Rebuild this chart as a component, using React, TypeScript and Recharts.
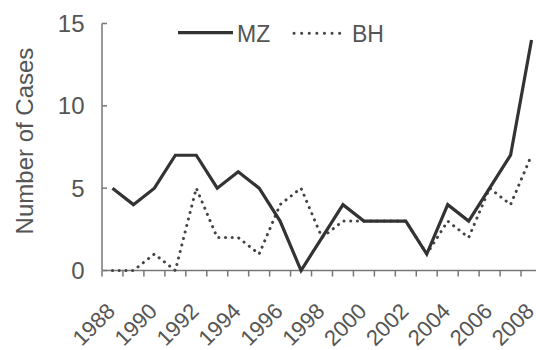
import React from 'react';
import { LineChart, Line, XAxis, YAxis, ReferenceLine, Legend } from 'recharts';

const years = [1988, 1989, 1990, 1991, 1992, 1993, 1994, 1995, 1996, 1997, 1998, 1999, 2000, 2001, 2002, 2003, 2004, 2005, 2006, 2007, 2008];
const mzCases = [5, 4, 5, 7, 7, 5, 6, 5, 3, 0, 2, 4, 3, 3, 3, 1, 4, 3, 5, 7, 14];
const bhCases = [0, 0, 1, 0, 5, 2, 2, 1, 4, 5, 2, 3, 3, 3, 3, 1, 3, 2, 5, 4, 7];
const yearLabels = [1988, 1990, 1992, 1994, 1996, 1998, 2000, 2002, 2004, 2006, 2008];
const yTicks = [0, 5, 10, 15];
const seriesNames = ['MZ', 'BH'];

const data = years.map((year, i) => ({ year, MZ: mzCases[i], BH: bhCases[i] }));
// tick marks sit between the years (x.5), labels on the even years
const xTicks = [...years.flatMap((y) => [y - 0.5, y]), years[years.length - 1] + 0.5];
const xDomain = [years[0] - 0.5, years[years.length - 1] + 0.5];

const TEXT = '#555';
const AXIS = '#777';
const FONT = '"Liberation Sans", Arial, sans-serif';

const YTick = (props: any) => {
    const { x, y, payload } = props;
    return (
        <g>
            <path d={`M${x - 5},${y}L${x},${y}`} stroke={AXIS} strokeWidth={1.5} fill="none" />
            <text x={x - 22.5} y={y + 8.6} textAnchor="end" fontSize={24} fill={TEXT} fontFamily={FONT}>
                {payload.value}
            </text>
        </g>
    );
};

// y comes in 6px below the axis line (tickSize)
const XTick = (props: any) => {
    const { x, y, payload } = props;
    const v = payload.value;
    if (v % 1 !== 0) {
        return <path d={`M${x},${y - 6}L${x},${y}`} stroke={AXIS} strokeWidth={1.5} fill="none" />;
    }
    if (!yearLabels.includes(v)) return null;
    return (
        <text
            x={x + 4}
            y={y + 36}
            transform={`rotate(-45 ${x + 4} ${y + 36})`}
            textAnchor="end"
            fontSize={22}
            fill={TEXT}
            fontFamily={FONT}
        >
            {v}
        </text>
    );
};

const AxisPath = (props: any) => {
    const { x1, y1, x2, y2 } = props;
    return <path d={`M${x1},${y1}L${x2},${y2}`} stroke={AXIS} strokeWidth={1.5} fill="none" />;
};

const YTitle = (props: any) => {
    const vb = props.viewBox || { x: 0, y: 23.5, width: 102, height: 247 };
    const cx = vb.x + 33;
    const cy = vb.y + vb.height / 2 - 6;
    return (
        <text
            x={cx}
            y={cy}
            transform={`rotate(-90 ${cx} ${cy})`}
            textAnchor="middle"
            fontSize={24}
            fill={TEXT}
            fontFamily={FONT}
        >
            Number of Cases
        </text>
    );
};

const LegendContent = () => (
    <svg width={536} height={60} style={{ display: 'block' }}>
        <path d="M178,32.7L233,32.7" stroke="#333" strokeWidth={3.2} fill="none" />
        <text x={237} y={42} fontSize={23} fill={TEXT} fontFamily={FONT}>
            {seriesNames[0]}
        </text>
        <path
            d="M294,33.3L343,33.3"
            stroke="#444"
            strokeWidth={3}
            strokeDasharray="0.1 7.5"
            strokeLinecap="round"
            fill="none"
        />
        <text x={352} y={42} fontSize={23} fill={TEXT} fontFamily={FONT}>
            {seriesNames[1]}
        </text>
    </svg>
);

export default function App() {
    return (
        <div
            style={{
                position: 'fixed',
                left: 0,
                top: 0,
                width: 536,
                height: 350,
                overflow: 'hidden',
                background: '#fff',
            }}
        >
            <LineChart
                width={542}
                height={350}
                data={data}
                margin={{ top: 23.5, right: 0, bottom: 49.5, left: 0 }}
            >
                <XAxis
                    type="number"
                    dataKey="year"
                    domain={xDomain}
                    ticks={xTicks}
                    interval={0}
                    tick={<XTick />}
                    tickLine={false}
                    axisLine={false}
                    tickSize={6}
                    tickMargin={0}
                    height={30}
                />
                <YAxis
                    domain={[0, 15]}
                    ticks={yTicks}
                    interval={0}
                    width={102}
                    tick={<YTick />}
                    tickLine={false}
                    axisLine={false}
                    tickSize={-5}
                    tickMargin={0}
                    label={<YTitle />}
                />
                <ReferenceLine y={0} shape={<AxisPath />} />
                <ReferenceLine x={xDomain[0]} shape={<AxisPath />} />
                <Legend
                    layout="vertical"
                    verticalAlign="middle"
                    align="center"
                    content={<LegendContent />}
                    wrapperStyle={{ position: 'absolute', left: 0, top: 0, width: 536, height: 60 }}
                />
                <Line
                    dataKey="BH"
                    stroke="#444"
                    strokeWidth={3}
                    strokeDasharray="0.1 6.6"
                    strokeLinecap="round"
                    dot={false}
                    isAnimationActive={false}
                />
                <Line
                    dataKey="MZ"
                    stroke="#333"
                    strokeWidth={3.2}
                    dot={false}
                    isAnimationActive={false}
                />
            </LineChart>
        </div>
    );
}
